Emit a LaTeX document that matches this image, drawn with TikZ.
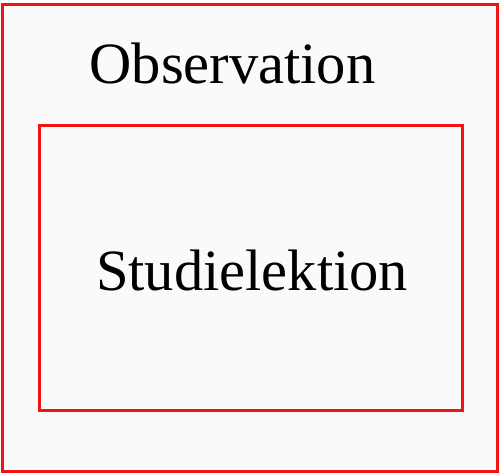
\documentclass[tikz,border=0pt]{standalone}
\usepackage{fontspec}
\setmainfont{Liberation Serif}
\usepackage{xcolor}
\definecolor{framered}{HTML}{F01414}
\definecolor{paper}{HTML}{FAFAFA}
\usetikzlibrary{positioning}

\begin{document}
\begin{tikzpicture}[
  x=1pt,y=1pt,
  font=\fontsize{58.5}{62}\selectfont,
  frame/.style={draw=framered,line width=3.3pt,fill=paper,inner sep=0pt},
  lbl/.style={inner sep=0pt,anchor=base},
]
\useasboundingbox (0,0) rectangle (499,-474);
% outer frame
\node[frame,minimum width=495pt,minimum height=467pt] (obsframe) at (250,-238) {};
\node[lbl] (obs) at (232.5,-83) {Observation};
% inner frame
\node[frame,minimum width=423pt,minimum height=285pt] (studie) at (251,-268) {};
\node[lbl] (studietxt) at (252,-290) {Studielektion};
\end{tikzpicture}
\end{document}
